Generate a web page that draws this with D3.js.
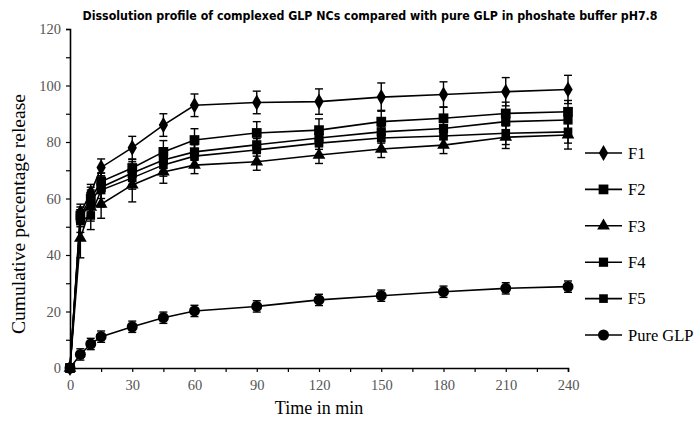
<!DOCTYPE html>
<html>
<head>
<meta charset="utf-8">
<script src="https://cdnjs.cloudflare.com/ajax/libs/d3/7.8.5/d3.min.js"></script>
<style>
  body { margin: 0; background: #fff; }
  .tick text { font-family: "Liberation Serif", "Times New Roman", serif; fill: #555; }
</style>
</head>
<body>
<div id="chart"></div>
<script>
// time points (min)
var times = [0, 5, 10, 15, 30, 45, 60, 90, 120, 150, 180, 210, 240];

var names = ["F1", "F2", "F3", "F4", "F5", "Pure GLP"];

var f1 = [0, 55, 62, 71, 78, 86, 93, 94, 94.3, 95.9, 96.8, 97.8, 98.6];
var f2 = [0, 54, 60, 66, 70.8, 76.5, 80.7, 83.2, 84.2, 87.2, 88.4, 90.1, 90.7];
var f3 = [0, 46, 57, 58, 64.8, 69.4, 71.8, 73, 75.4, 77.5, 78.9, 81.7, 82.5];
var f4 = [0, 53, 59, 64, 69, 73.6, 76.5, 79, 81.4, 83.6, 84.8, 87.2, 87.8];
var f5 = [0, 52, 54, 63, 67.3, 71.9, 75, 77.2, 79.6, 81.4, 82.1, 83.1, 83.6];
var pure = [0, 4.8, 8.5, 11.1, 14.6, 17.8, 20.2, 21.8, 24.1, 25.6, 27, 28.2, 28.8];

var f1Err = [0, 3, 3, 3, 4, 4, 4, 4, 4.5, 5, 4.5, 5, 5];
var f2Err = [0, 3, 3, 3, 3, 4, 4, 4, 4, 4, 4, 4, 4];
var f3Err = [0, 7, 5, 5, 6, 4, 3, 3, 3, 3, 3, 4, 5];
var f4Err = [0, 3, 5, 4, 4, 4, 3, 4, 4, 4, 4, 4, 4];
var f5Err = [0, 4, 5, 6, 4, 4, 4, 4, 4, 4, 4, 4, 4];
var pureErr = [0, 2, 2, 2, 2, 2, 2, 2, 2, 2, 2, 2, 2];

var xTickLabels = [0, 30, 60, 90, 120, 150, 180, 210, 240];
var yTickLabels = [0, 20, 40, 60, 80, 100, 120];

var csize = [700, 421];
var margin = {left: 70, right: 132, top: 29, bottom: 53};

var svg = d3.select("#chart").append("svg")
  .attr("width", csize[0])
  .attr("height", csize[1]);

var x = d3.scaleLinear().domain([0, 240]).range([margin.left, csize[0] - margin.right]);
var y = d3.scaleLinear().domain([0, 120]).range([csize[1] - margin.bottom, margin.top]);

var series = [
  {name: names[0], values: f1, err: f1Err, symbol: d3.symbolDiamond, size: 75},
  {name: names[1], values: f2, err: f2Err, symbol: d3.symbolSquare, size: 95},
  {name: names[2], values: f3, err: f3Err, symbol: d3.symbolTriangle, size: 70},
  {name: names[3], values: f4, err: f4Err, symbol: d3.symbolSquare, size: 85},
  {name: names[4], values: f5, err: f5Err, symbol: d3.symbolSquare, size: 75},
  {name: names[5], values: pure, err: pureErr, symbol: d3.symbolCircle, size: 95}
];

// axes
var xAxis = d3.axisBottom(x)
  .tickValues(d3.range(0, 241, 15))
  .tickSize(4)
  .tickFormat(function (d) { return xTickLabels.indexOf(d) >= 0 ? d : ""; });

var yAxis = d3.axisLeft(y)
  .tickValues(d3.range(0, 121, 10))
  .tickSize(4)
  .tickFormat(function (d) { return yTickLabels.indexOf(d) >= 0 ? d : ""; });

var gx = svg.append("g")
  .attr("transform", "translate(0," + y(0) + ")")
  .call(xAxis);
gx.select(".domain").attr("stroke-width", 1.6);
gx.selectAll(".tick line").attr("stroke-width", 1.2);
gx.selectAll(".tick text").attr("font-size", 14.5).attr("dy", "1.05em");

var gy = svg.append("g")
  .attr("transform", "translate(" + x(0) + ",0)")
  .call(yAxis);
gy.select(".domain").attr("stroke-width", 1.6);
gy.selectAll(".tick line").attr("stroke-width", 1.2);
gy.selectAll(".tick text").attr("font-size", 14.5).attr("x", -9);

// lines
var line = d3.line()
  .x(function (d, i) { return x(times[i]); })
  .y(function (d) { return y(d); });

var chart = svg.append("g");

chart.selectAll(".series-line")
  .data(series).enter()
  .append("path")
    .attr("class", "series-line")
    .attr("d", function (d) { return line(d.values); })
    .attr("fill", "none")
    .attr("stroke", "#000")
    .attr("stroke-width", 1.6);

// error bars
series.forEach(function (s) {
  var pts = s.values.map(function (v, i) { return {t: times[i], v: v, e: s.err[i]}; })
    .filter(function (p) { return p.e > 0; });
  var g = chart.append("g").attr("stroke", "#000").attr("stroke-width", 1.4);
  g.selectAll(".bar").data(pts).enter()
    .append("line")
      .attr("x1", function (p) { return x(p.t); })
      .attr("x2", function (p) { return x(p.t); })
      .attr("y1", function (p) { return y(p.v - p.e); })
      .attr("y2", function (p) { return y(p.v + p.e); });
  [-1, 1].forEach(function (sign) {
    g.selectAll(".cap" + sign).data(pts).enter()
      .append("line")
        .attr("x1", function (p) { return x(p.t) - 4; })
        .attr("x2", function (p) { return x(p.t) + 4; })
        .attr("y1", function (p) { return y(p.v + sign * p.e); })
        .attr("y2", function (p) { return y(p.v + sign * p.e); });
  });
});

// markers
series.forEach(function (s) {
  chart.append("g").selectAll("path")
    .data(s.values).enter()
    .append("path")
      .attr("d", d3.symbol().type(s.symbol).size(s.size))
      .attr("fill", "#000")
      .attr("transform", function (d, i) {
        return "translate(" + x(times[i]) + "," + y(d) + ")";
      });
});

// legend
var legend = svg.selectAll(".legend")
  .data(series).enter()
  .append("g")
    .attr("class", "legend")
    .attr("transform", function (d, i) { return "translate(585," + (153 + i * 36.4) + ")"; });

legend.append("line")
  .attr("x1", 0).attr("x2", 37)
  .attr("stroke", "#000").attr("stroke-width", 1.6);

legend.append("path")
  .attr("d", function (d) { return d3.symbol().type(d.symbol).size(d.size)(); })
  .attr("transform", "translate(18.5,0)")
  .attr("fill", "#000");

legend.append("text")
  .attr("x", 43)
  .attr("dy", "0.35em")
  .style("font-family", "'Liberation Serif', 'Times New Roman', serif")
  .style("font-size", "16.5px")
  .text(function (d) { return d.name; });

// titles
svg.append("text")
  .attr("x", 370)
  .attr("y", 20)
  .style("text-anchor", "middle")
  .style("font-family", "'DejaVu Sans Condensed', 'Liberation Sans Narrow', 'Arial Narrow', sans-serif")
  .style("font-weight", "bold")
  .style("font-size", "13px")
  .attr("textLength", 575)
  .attr("lengthAdjust", "spacingAndGlyphs")
  .text("Dissolution profile of complexed GLP NCs compared with pure GLP in phoshate buffer pH7.8");

svg.append("text")
  .attr("x", 319)
  .attr("y", 414)
  .style("text-anchor", "middle")
  .style("font-family", "'Liberation Serif', 'Times New Roman', serif")
  .style("font-size", "18px")
  .text("Time in min");

svg.append("text")
  .attr("transform", "translate(25,214) rotate(-90)")
  .style("text-anchor", "middle")
  .style("font-family", "'Liberation Serif', 'Times New Roman', serif")
  .style("font-size", "19px")
  .attr("textLength", 240)
  .attr("lengthAdjust", "spacingAndGlyphs")
  .text("Cumulative percentage release");
</script>
</body>
</html>
